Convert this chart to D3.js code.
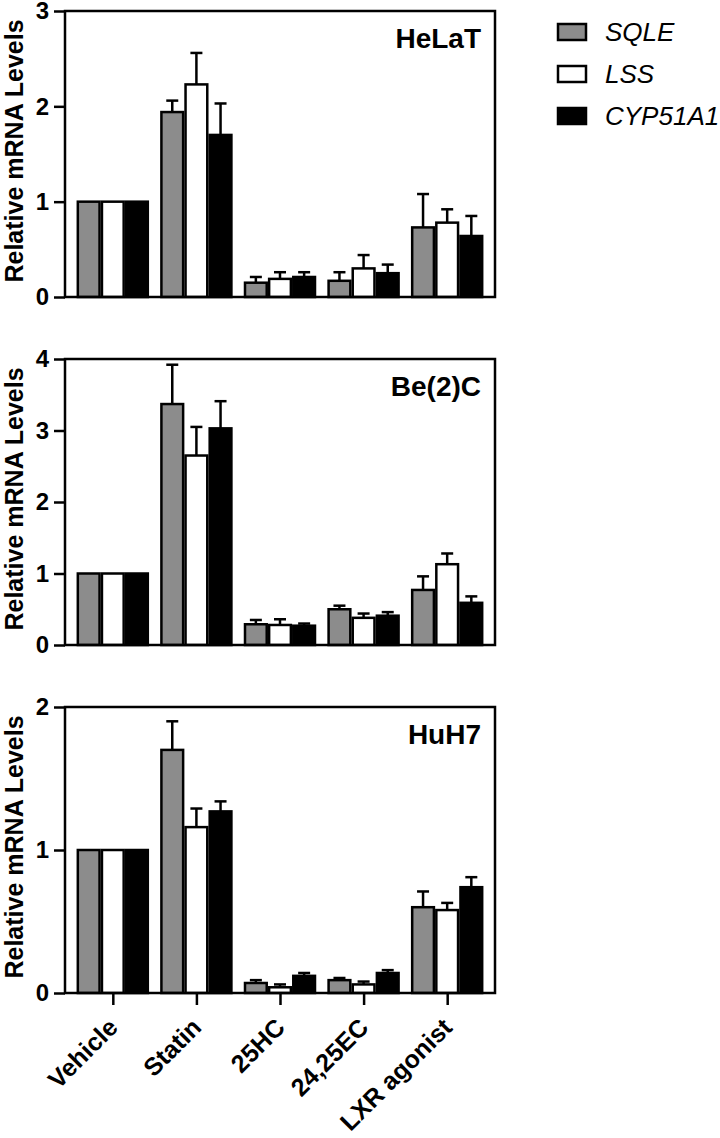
<!DOCTYPE html>
<html>
<head>
<meta charset="utf-8">
<script src="https://cdn.jsdelivr.net/npm/d3@7"></script>
<style>
  body { margin: 0; background: #fff; }
  svg { font-family: "Liberation Sans", Arial, sans-serif; }
</style>
</head>
<body>
<div id="chart"></div>
<script>
// treatments on the x axis and genes in each group
const treatments = ['Vehicle', 'Statin', '25HC', '24,25EC', 'LXR agonist'];
const genes = ['SQLE', 'LSS', 'CYP51A1'];
const geneColors = ['#8c8c8c', '#ffffff', '#000000'];

// means and upper error (SEM) per gene, one row per gene
const helatMean = [[1, 1.94, 0.15, 0.17, 0.73], [1, 2.23, 0.19, 0.30, 0.78], [1, 1.70, 0.21, 0.25, 0.64]];
const helatErr = [[0, 0.12, 0.06, 0.09, 0.35], [0, 0.33, 0.07, 0.14, 0.14], [0, 0.33, 0.05, 0.09, 0.21]];
const be2cMean = [[1, 3.37, 0.29, 0.50, 0.77], [1, 2.65, 0.28, 0.38, 1.13], [1, 3.03, 0.27, 0.41, 0.59]];
const be2cErr = [[0, 0.55, 0.06, 0.05, 0.19], [0, 0.40, 0.08, 0.06, 0.15], [0, 0.38, 0.03, 0.05, 0.09]];
const huh7Mean = [[1, 1.70, 0.07, 0.09, 0.60], [1, 1.16, 0.04, 0.06, 0.58], [1, 1.27, 0.12, 0.14, 0.74]];
const huh7Err = [[0, 0.20, 0.02, 0.015, 0.11], [0, 0.13, 0.02, 0.02, 0.05], [0, 0.07, 0.02, 0.02, 0.07]];

const panels = [
  { name: 'HeLaT', max: 3, mean: helatMean, err: helatErr },
  { name: 'Be(2)C', max: 4, mean: be2cMean, err: be2cErr },
  { name: 'HuH7', max: 2, mean: huh7Mean, err: huh7Err }
];

const width = 720, height = 1138;
const left = 65, right = 495;
const panelTops = [11, 359, 707];
const panelH = 286;
const font = '"Liberation Sans", Arial, sans-serif';

const svg = d3.select('#chart').append('svg')
  .attr('width', width)
  .attr('height', height);

const x = d3.scalePoint()
  .domain(treatments)
  .range([left, right])
  .padding(0.572);

const xInner = d3.scaleBand()
  .domain(genes)
  .range([-35, 35])
  .paddingInner(0.1);

panels.forEach((p, pi) => {
  const top = panelTops[pi];
  const y = d3.scaleLinear().domain([0, p.max]).range([top + panelH, top]);
  const g = svg.append('g');

  // bars
  genes.forEach((gene, gi) => {
    const rows = treatments.map((t, ti) => ({ t: t, v: p.mean[gi][ti], e: p.err[gi][ti] }));
    g.selectAll('.bar-' + gi)
      .data(rows)
      .enter().append('rect')
      .attr('x', d => x(d.t) + xInner(gene))
      .attr('y', d => y(d.v))
      .attr('width', xInner.bandwidth())
      .attr('height', d => y(0) - y(d.v))
      .attr('fill', geneColors[gi])
      .attr('stroke', '#000')
      .attr('stroke-width', 2.5);

    // error bars, upper side only
    const eb = g.selectAll('.err-' + gi)
      .data(rows.filter(d => d.e > 0))
      .enter().append('g');
    const cx = d => x(d.t) + xInner(gene) + xInner.bandwidth() / 2;
    eb.append('line')
      .attr('x1', cx).attr('x2', cx)
      .attr('y1', d => y(d.v)).attr('y2', d => y(d.v + d.e))
      .attr('stroke', '#000').attr('stroke-width', 2.5);
    eb.append('line')
      .attr('x1', d => cx(d) - 6).attr('x2', d => cx(d) + 6)
      .attr('y1', d => y(d.v + d.e)).attr('y2', d => y(d.v + d.e))
      .attr('stroke', '#000').attr('stroke-width', 2.5);
  });

  // frame
  g.append('rect')
    .attr('x', left).attr('y', top)
    .attr('width', right - left).attr('height', panelH)
    .attr('fill', 'none')
    .attr('stroke', '#000')
    .attr('stroke-width', 2.5);

  // y axis
  const yAxis = g.append('g')
    .attr('transform', `translate(${left},0)`)
    .call(d3.axisLeft(y).ticks(p.max).tickSize(11).tickPadding(5).tickFormat(d3.format('d')));
  yAxis.select('.domain').remove();
  yAxis.selectAll('line').attr('stroke-width', 2.5);
  yAxis.selectAll('text')
    .attr('font-size', 24).attr('font-weight', 'bold')
    .attr('font-family', font)
    .attr('fill', '#000');

  // y title
  g.append('text')
    .attr('transform', `translate(23,${top + panelH / 2 - 3}) rotate(-90)`)
    .attr('text-anchor', 'middle')
    .attr('font-size', 25)
    .attr('font-weight', 'bold')
    .text('Relative mRNA Levels');

  // panel name
  g.append('text')
    .attr('x', 481).attr('y', top + 37)
    .attr('text-anchor', 'end')
    .attr('font-size', 28)
    .attr('font-weight', 'bold')
    .text(p.name);

  // x axis on the bottom panel only
  if (pi === panels.length - 1) {
    const xAxis = g.append('g')
      .attr('transform', `translate(0,${top + panelH})`)
      .call(d3.axisBottom(x).tickSize(12));
    xAxis.select('.domain').remove();
    xAxis.selectAll('line').attr('stroke-width', 2.5);
    xAxis.selectAll('text')
      .attr('font-size', 25).attr('font-weight', 'bold')
      .attr('font-family', font)
      .attr('fill', '#000')
      .attr('text-anchor', 'end')
      .attr('x', 0).attr('y', 0).attr('dy', 0)
      .attr('transform', 'translate(6,36) rotate(-45)');
  }
});

// legend
const legend = svg.append('g').attr('transform', 'translate(557,32)');
genes.forEach((gene, i) => {
  const row = legend.append('g').attr('transform', `translate(0,${i * 42})`);
  row.append('rect')
    .attr('x', 1).attr('y', -8)
    .attr('width', 28).attr('height', 16)
    .attr('fill', geneColors[i])
    .attr('stroke', '#000')
    .attr('stroke-width', 2.5);
  row.append('text')
    .attr('x', 48).attr('y', 0)
    .attr('dy', '0.36em')
    .attr('font-size', 26)
    .attr('font-style', 'italic')
    .text(gene);
});
</script>
</body>
</html>
